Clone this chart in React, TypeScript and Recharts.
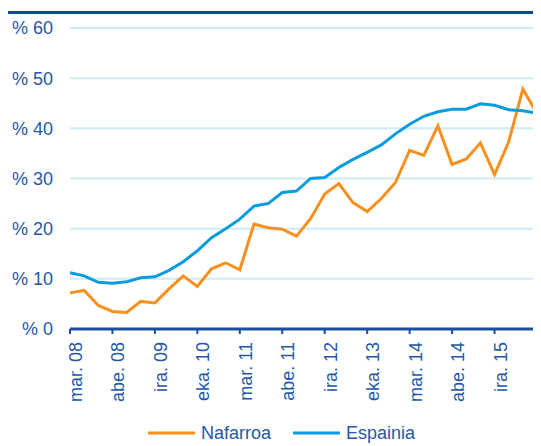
import React from 'react';
import {
  LineChart,
  Line,
  XAxis,
  YAxis,
  CartesianGrid,
  Legend,
} from 'recharts';

const quarters = [
  'mar. 08', 'eka. 08', 'ira. 08', 'abe. 08',
  'mar. 09', 'eka. 09', 'ira. 09', 'abe. 09',
  'mar. 10', 'eka. 10', 'ira. 10', 'abe. 10',
  'mar. 11', 'eka. 11', 'ira. 11', 'abe. 11',
  'mar. 12', 'eka. 12', 'ira. 12', 'abe. 12',
  'mar. 13', 'eka. 13', 'ira. 13', 'abe. 13',
  'mar. 14', 'eka. 14', 'ira. 14', 'abe. 14',
  'mar. 15', 'eka. 15', 'ira. 15', 'abe. 15',
  'mar. 16', 'eka. 16',
];

const nafarroa = [
  7.2, 7.7, 4.7, 3.5, 3.3, 5.5, 5.2, 8.0, 10.6, 8.5, 12.0, 13.2, 11.8, 20.9, 20.2, 19.9, 18.5,
  22.0, 26.9, 29.0, 25.2, 23.4, 26.0, 29.2, 35.6, 34.6, 40.5, 32.8, 33.9, 37.1, 30.8, 37.3, 47.8, 43.0,
];

const espainia = [
  11.2, 10.6, 9.3, 9.1, 9.4, 10.2, 10.4, 11.7, 13.4, 15.6, 18.2, 20.0, 21.9, 24.5, 25.0, 27.2, 27.5,
  30.0, 30.2, 32.2, 33.8, 35.2, 36.7, 38.9, 40.8, 42.4, 43.3, 43.8, 43.8, 44.9, 44.6, 43.7, 43.5, 43.0,
];

const seriesOrder = ['Nafarroa', 'Espainia'];
const yTicks = [0, 10, 20, 30, 40, 50, 60];

const data = quarters.map((q, i) => ({
  q,
  Nafarroa: nafarroa[i],
  Espainia: espainia[i],
}));

const TEXT = '#2358a8';
const AXIS = '#1a4f9e';
const ORANGE = '#f7901e';
const BLUE = '#0a9cde';
const FONT = '"Liberation Sans", Arial, sans-serif';

function XTick({ x, y, payload }: any) {
  return (
    <text
      transform={`translate(${x + 12},${y + 6}) rotate(-90)`}
      textAnchor="end"
      fill={TEXT}
      fontSize={18}
      fontFamily={FONT}
    >
      {payload.value}
    </text>
  );
}

function LegendRow({ payload }: any) {
  const items = [...(payload || [])].sort(
    (a: any, b: any) => seriesOrder.indexOf(a.value) - seriesOrder.indexOf(b.value)
  );
  return (
    <svg width={550} height={24} style={{ display: 'block' }}>
      {items.map((p: any, i: number) => {
        const x0 = 140 + i * 145;
        return (
          <g key={p.value}>
            <line x1={x0} x2={x0 + 47} y1={12} y2={12} stroke={p.color} strokeWidth={3} />
            <text x={x0 + 53} y={12} dy="0.35em" fill={TEXT} fontSize={18} fontFamily={FONT}>
              {p.value}
            </text>
          </g>
        );
      })}
    </svg>
  );
}

export default function App() {
  return (
    <div
      style={{
        position: 'relative',
        width: 533,
        height: 438,
        overflow: 'hidden',
        fontFamily: FONT,
      }}
    >
      <div
        style={{
          position: 'absolute',
          left: 0,
          top: 3,
          width: 533,
          height: 3,
          background: '#0d4c9c',
        }}
      />
      <LineChart
        width={550}
        height={438}
        data={data}
        margin={{ top: 20, right: 10, bottom: 13, left: 0 }}
      >
        <CartesianGrid vertical={false} stroke="#cdecfa" strokeWidth={2} />
        <XAxis
          dataKey="q"
          interval={2}
          height={80}
          padding={{ left: 0, right: 11 }}
          axisLine={{ stroke: AXIS, strokeWidth: 3 }}
          tickLine={{ stroke: AXIS, strokeWidth: 2 }}
          tickSize={5}
          tick={<XTick />}
        />
        <YAxis
          width={62}
          domain={[0, 60]}
          ticks={yTicks}
          axisLine={false}
          tickLine={false}
          tickMargin={11}
          tickFormatter={(v: number) => `% ${v}`}
          tick={{ fill: TEXT, fontSize: 18, fontFamily: FONT }}
        />
        <Legend
          content={<LegendRow />}
          wrapperStyle={{ position: 'absolute', top: 413, left: 0, width: 550 }}
        />
        <Line
          type="linear"
          dataKey="Nafarroa"
          stroke={ORANGE}
          strokeWidth={3}
          dot={false}
          isAnimationActive={false}
        />
        <Line
          type="linear"
          dataKey="Espainia"
          stroke={BLUE}
          strokeWidth={3}
          dot={false}
          isAnimationActive={false}
        />
      </LineChart>
    </div>
  );
}
